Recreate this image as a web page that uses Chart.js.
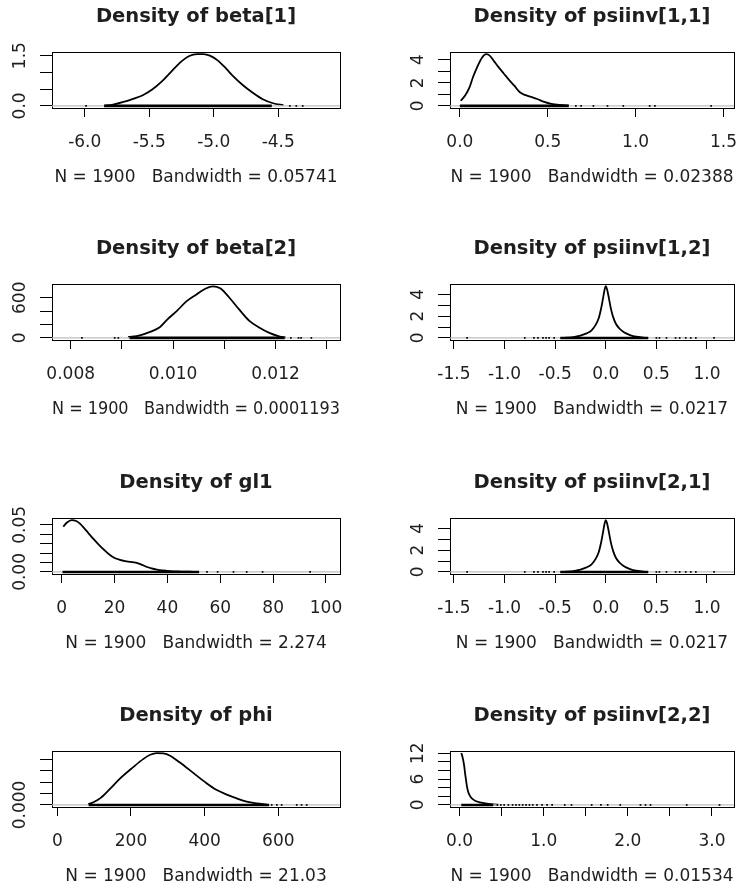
<!DOCTYPE html>
<html lang="en">
<head>
  <meta charset="UTF-8">
  <title>Density plots</title>
  <script src="https://cdn.jsdelivr.net/npm/chart.js"></script>
  <style>
    html, body { margin: 0; padding: 0; background: #fff; }
    #page { position: relative; width: 738px; height: 890px; overflow: hidden; }
    .panel { position: absolute; }
  </style>
</head>
<body>
<div id="page"></div>
<script>
// ---- data ----
// beta[1]
const beta1X = [-5.85, -5.78, -5.70, -5.62, -5.55, -5.48, -5.40, -5.32, -5.25, -5.19, -5.13, -5.08, -5.03, -4.97, -4.91, -4.85, -4.78, -4.70, -4.62, -4.54, -4.46];
const beta1Y = [0.0, 0.04, 0.12, 0.22, 0.32, 0.48, 0.74, 1.06, 1.33, 1.49, 1.547, 1.545, 1.50, 1.36, 1.14, 0.89, 0.64, 0.40, 0.20, 0.08, 0.02];
const beta1Rug = [-5.85, -4.55];
const beta1RugPts = [-5.99, -4.41, -4.36, -4.31];
const beta1XRange = [-6.254, -4.021];
const beta1YRange = [-0.062, 1.609];
const beta1XTicks = [-6.0, -5.5, -5.0, -4.5];
const beta1XLabels = ['-6.0', '-5.5', '-5.0', '-4.5'];
const beta1YTicks = [0, 0.5, 1.0, 1.5];
const beta1YLabels = ['0.0', '', '', '1.5'];

// psiinv[1,1]
const psi11X = [0.005, 0.03, 0.055, 0.075, 0.10, 0.125, 0.15, 0.17, 0.195, 0.22, 0.25, 0.28, 0.31, 0.34, 0.37, 0.40, 0.44, 0.48, 0.52, 0.57, 0.62];
const psi11Y = [0.45, 0.9, 1.6, 2.5, 3.4, 4.15, 4.48, 4.35, 3.85, 3.35, 2.8, 2.25, 1.75, 1.2, 0.95, 0.8, 0.6, 0.35, 0.18, 0.08, 0.03];
const psi11Rug = [0.0, 0.62];
const psi11RugPts = [0.66, 0.69, 0.76, 0.84, 0.93, 1.08, 1.11, 1.43];
const psi11XRange = [-0.056, 1.56];
const psi11YRange = [-0.18, 4.66];
const psi11XTicks = [0.0, 0.5, 1.0, 1.5];
const psi11XLabels = ['0.0', '0.5', '1.0', '1.5'];
const psi11YTicks = [0, 1, 2, 3, 4];
const psi11YLabels = ['0', '', '2', '', '4'];

// beta[2]
const beta2X = [0.00912, 0.00935, 0.00955, 0.00974, 0.00988, 0.01007, 0.01026, 0.01045, 0.01063, 0.01078, 0.01092, 0.0111, 0.01129, 0.01149, 0.01168, 0.01188, 0.01207, 0.0122];
const beta2Y = [10, 38, 90, 160, 270, 400, 545, 645, 735, 770, 740, 600, 425, 255, 155, 75, 24, 5];
const beta2Rug = [0.00915, 0.01218];
const beta2RugPts = [0.00822, 0.00886, 0.00893, 0.0123, 0.01245, 0.0125, 0.0127];
const beta2XRange = [0.007635, 0.01326];
const beta2YRange = [-31, 805];
const beta2XTicks = [0.008, 0.009, 0.010, 0.011, 0.012, 0.013];
const beta2XLabels = ['0.008', '', '0.010', '', '0.012', ''];
const beta2YTicks = [0, 200, 400, 600];
const beta2YLabels = ['0', '', '', '600'];

// psiinv[1,2]
const psi12X = [-0.40, -0.32, -0.25, -0.19, -0.14, -0.10, -0.07, -0.045, -0.025, -0.01, 0.0, 0.012, 0.03, 0.048, 0.07, 0.10, 0.14, 0.18, 0.24, 0.30, 0.38];
const psi12Y = [0.02, 0.08, 0.22, 0.42, 0.70, 1.2, 1.8, 2.75, 3.75, 4.5, 4.76, 4.5, 3.7, 2.8, 2.0, 1.3, 0.82, 0.52, 0.26, 0.11, 0.03];
const psi12Rug = [-0.45, 0.42];
const psi12RugPts = [-1.37, -0.80, -0.71, -0.67, -0.62, -0.59, -0.56, -0.51, 0.50, 0.53, 0.60, 0.69, 0.73, 0.79, 0.84, 0.89, 1.07];
const psi12XRange = [-1.539, 1.267];
const psi12YRange = [-0.19, 4.95];
const psi12XTicks = [-1.5, -1.0, -0.5, 0.0, 0.5, 1.0];
const psi12XLabels = ['-1.5', '-1.0', '-0.5', '0.0', '0.5', '1.0'];
const psi12YTicks = [0, 1, 2, 3, 4];
const psi12YLabels = ['0', '', '2', '', '4'];

// gl1
const gl1X = [0.6, 2, 3.8, 5.5, 7, 8.5, 10, 12, 14, 16, 18, 20, 22, 24, 26, 28, 30, 32, 34, 36, 38, 41, 45, 50];
const gl1Y = [0.048, 0.0525, 0.055, 0.054, 0.051, 0.0465, 0.0415, 0.035, 0.029, 0.0235, 0.0185, 0.0148, 0.0128, 0.0115, 0.0107, 0.0098, 0.0080, 0.0055, 0.0037, 0.0024, 0.0015, 0.0008, 0.0004, 0.0001];
const gl1Rug = [0.3, 52];
const gl1RugPts = [55, 59, 65, 70, 76, 94];
const gl1XRange = [-3.67, 105.3];
const gl1YRange = [-0.0022, 0.0572];
const gl1XTicks = [0, 20, 40, 60, 80, 100];
const gl1XLabels = ['0', '20', '40', '60', '80', '100'];
const gl1YTicks = [0, 0.01, 0.02, 0.03, 0.04, 0.05];
const gl1YLabels = ['0.00', '', '', '', '', '0.05'];

// psiinv[2,1]
const psi21X = [-0.40, -0.32, -0.25, -0.19, -0.14, -0.10, -0.07, -0.045, -0.025, -0.01, 0.0, 0.012, 0.03, 0.048, 0.07, 0.10, 0.14, 0.18, 0.24, 0.30, 0.38];
const psi21Y = [0.02, 0.08, 0.22, 0.42, 0.70, 1.2, 1.8, 2.75, 3.75, 4.5, 4.76, 4.5, 3.7, 2.8, 2.0, 1.3, 0.82, 0.52, 0.26, 0.11, 0.03];
const psi21Rug = [-0.45, 0.42];
const psi21RugPts = [-1.37, -0.80, -0.71, -0.67, -0.62, -0.59, -0.56, -0.51, 0.50, 0.53, 0.60, 0.69, 0.73, 0.79, 0.84, 0.89, 1.07];
const psi21XRange = [-1.539, 1.267];
const psi21YRange = [-0.19, 4.95];
const psi21XTicks = [-1.5, -1.0, -0.5, 0.0, 0.5, 1.0];
const psi21XLabels = ['-1.5', '-1.0', '-0.5', '0.0', '0.5', '1.0'];
const psi21YTicks = [0, 1, 2, 3, 4];
const psi21YLabels = ['0', '', '2', '', '4'];

// phi
const phiX = [84, 98, 116, 143, 170, 206, 233, 252, 270, 288, 306, 333, 369, 405, 433, 460, 487, 514, 541, 568];
const phiY = [0.00006, 0.00023, 0.00057, 0.0014, 0.0023, 0.0033, 0.0040, 0.00438, 0.00453, 0.0045, 0.0043, 0.0037, 0.0028, 0.0019, 0.0013, 0.0009, 0.00057, 0.00029, 0.00014, 0.00005];
const phiRug = [85, 575];
const phiRugPts = [582, 596, 609, 650, 663, 677];
const phiXRange = [-14.4, 767.4];
const phiYRange = [-0.00018, 0.00471];
const phiXTicks = [0, 200, 400, 600];
const phiXLabels = ['0', '200', '400', '600'];
const phiYTicks = [0, 0.001, 0.002, 0.003, 0.004];
const phiYLabels = ['0.000', '', '', '', ''];

// psiinv[2,2]
const psi22X = [0.02, 0.03, 0.043, 0.055, 0.065, 0.075, 0.085, 0.1, 0.12, 0.15, 0.19, 0.24, 0.29, 0.34, 0.40, 0.46];
const psi22Y = [12.04, 11.5, 10.4, 9.0, 7.4, 6.0, 4.6, 3.2, 2.2, 1.45, 0.9, 0.6, 0.42, 0.25, 0.12, 0.06];
const psi22Rug = [0.02, 0.40];
const psi22RugPts = [0.45, 0.49, 0.53, 0.58, 0.63, 0.67, 0.71, 0.75, 0.79, 0.83, 0.87, 0.92, 0.98, 1.04, 1.1, 1.25, 1.33, 1.57, 1.68, 1.76, 1.91, 2.15, 2.21, 2.27, 2.7, 3.09];
const psi22XRange = [-0.114, 3.262];
const psi22YRange = [-0.48, 12.52];
const psi22XTicks = [0.0, 0.5, 1.0, 1.5, 2.0, 2.5, 3.0];
const psi22XLabels = ['0.0', '', '1.0', '', '2.0', '', '3.0'];
const psi22YTicks = [0, 2, 4, 6, 8, 10, 12];
const psi22YLabels = ['0', '', '', '6', '', '', '12'];

// ---- panels ----
const panels = [
  { row: 0, col: 0, title: 'Density of beta[1]', xlab: 'N = 1900   Bandwidth = 0.05741',
    x: beta1X, y: beta1Y, rug: beta1Rug, rugPts: beta1RugPts, xr: beta1XRange, yr: beta1YRange,
    xt: beta1XTicks, xl: beta1XLabels, yt: beta1YTicks, yl: beta1YLabels },
  { row: 0, col: 1, title: 'Density of psiinv[1,1]', xlab: 'N = 1900   Bandwidth = 0.02388',
    x: psi11X, y: psi11Y, rug: psi11Rug, rugPts: psi11RugPts, xr: psi11XRange, yr: psi11YRange,
    xt: psi11XTicks, xl: psi11XLabels, yt: psi11YTicks, yl: psi11YLabels },
  { row: 1, col: 0, title: 'Density of beta[2]', xlab: 'N = 1900   Bandwidth = 0.0001193',
    x: beta2X, y: beta2Y, rug: beta2Rug, rugPts: beta2RugPts, xr: beta2XRange, yr: beta2YRange,
    xt: beta2XTicks, xl: beta2XLabels, yt: beta2YTicks, yl: beta2YLabels },
  { row: 1, col: 1, title: 'Density of psiinv[1,2]', xlab: 'N = 1900   Bandwidth = 0.0217',
    x: psi12X, y: psi12Y, rug: psi12Rug, rugPts: psi12RugPts, xr: psi12XRange, yr: psi12YRange,
    xt: psi12XTicks, xl: psi12XLabels, yt: psi12YTicks, yl: psi12YLabels },
  { row: 2, col: 0, title: 'Density of gl1', xlab: 'N = 1900   Bandwidth = 2.274',
    x: gl1X, y: gl1Y, rug: gl1Rug, rugPts: gl1RugPts, xr: gl1XRange, yr: gl1YRange,
    xt: gl1XTicks, xl: gl1XLabels, yt: gl1YTicks, yl: gl1YLabels },
  { row: 2, col: 1, title: 'Density of psiinv[2,1]', xlab: 'N = 1900   Bandwidth = 0.0217',
    x: psi21X, y: psi21Y, rug: psi21Rug, rugPts: psi21RugPts, xr: psi21XRange, yr: psi21YRange,
    xt: psi21XTicks, xl: psi21XLabels, yt: psi21YTicks, yl: psi21YLabels },
  { row: 3, col: 0, title: 'Density of phi', xlab: 'N = 1900   Bandwidth = 21.03',
    x: phiX, y: phiY, rug: phiRug, rugPts: phiRugPts, xr: phiXRange, yr: phiYRange,
    xt: phiXTicks, xl: phiXLabels, yt: phiYTicks, yl: phiYLabels },
  { row: 3, col: 1, title: 'Density of psiinv[2,2]', xlab: 'N = 1900   Bandwidth = 0.01534',
    x: psi22X, y: psi22Y, rug: psi22Rug, rugPts: psi22RugPts, xr: psi22XRange, yr: psi22YRange,
    xt: psi22XTicks, xl: psi22XLabels, yt: psi22YTicks, yl: psi22YLabels }
];

// layout (page pixels)
const ROW_TOP  = [52, 284, 518, 751];   // top edge of each plot box
const COL_LEFT = [52, 450];             // left edge of each plot box
const BOX_W    = [288, 287];
const PANEL_W  = 369;
const TOP_H    = 52;                    // title block above the box
const BOX_H    = 56;
const BOTTOM_H = 80;                    // ticks + labels + xlab below the box
const FONT     = '"DejaVu Sans", "Liberation Sans", sans-serif';
const TXT      = '#1e1e1e';
const TICK_FONT = { family: FONT, size: 17 };

const page = document.getElementById('page');
const measure = document.createElement('canvas').getContext('2d');
function widest(labels) {
  measure.font = '17px ' + FONT;
  return Math.max(0, ...labels.map(s => measure.measureText(s).width));
}

panels.forEach(p => {
  const div = document.createElement('div');
  div.className = 'panel';
  const panelLeft = p.col * PANEL_W;
  const boxLeft = COL_LEFT[p.col] - panelLeft;
  const rightPad = PANEL_W - boxLeft - BOX_W[p.col];
  div.style.left = panelLeft + 'px';
  div.style.top = (ROW_TOP[p.row] - TOP_H) + 'px';
  const canvas = document.createElement('canvas');
  canvas.width = PANEL_W;
  canvas.height = TOP_H + BOX_H + BOTTOM_H;
  div.appendChild(canvas);
  page.appendChild(div);

  // rotated y labels sit ~32px left of the box
  const yPad = 19 - widest(p.yl) / 2;
  const noPad = s => { s.paddingLeft = 0; s.paddingRight = 0; s.paddingTop = 0; s.paddingBottom = 0; };

  new Chart(canvas.getContext('2d'), {
    type: 'line',
    data: {
      datasets: [
        { data: p.rug.map(v => ({ x: v, y: 0 })), borderColor: '#000', borderWidth: 2.6, pointRadius: 0 },
        { data: p.rugPts.map(v => ({ x: v, y: 0 })), showLine: false, pointStyle: 'rect',
          pointRadius: 1.2, backgroundColor: '#000', borderColor: '#000', borderWidth: 0 },
        { data: [{ x: p.xr[0], y: 0 }, { x: p.xr[1], y: 0 }], borderColor: '#bebebe', borderWidth: 1.2, pointRadius: 0 },
        { data: p.x.map((v, i) => ({ x: v, y: p.y[i] })), borderColor: '#000', borderWidth: 1.8,
          pointRadius: 0, cubicInterpolationMode: 'monotone' }
      ]
    },
    options: {
      responsive: false,
      devicePixelRatio: 1,
      animation: false,
      events: [],
      layout: { padding: { left: 0, right: rightPad, top: 0, bottom: 0 } },
      plugins: {
        legend: { display: false },
        tooltip: { enabled: false },
        title: {
          display: true, text: p.title, fullSize: false, color: TXT,
          font: { family: FONT, size: 19.5, weight: 'bold', lineHeight: 1.2 },
          padding: { top: 5, bottom: 23.6 }
        }
      },
      scales: {
        x: {
          type: 'linear', position: 'bottom', min: p.xr[0], max: p.xr[1],
          afterBuildTicks: s => { s.ticks = p.xt.map(v => ({ value: v })); },
          afterFit: s => { s.height = BOTTOM_H; noPad(s); },
          grid: { drawOnChartArea: false, drawTicks: true, tickLength: 9, color: '#000', lineWidth: 1 },
          border: { display: true, color: '#000', width: 1 },
          ticks: { autoSkip: false, minRotation: 0, maxRotation: 0, padding: 15.5, color: TXT, font: TICK_FONT,
                   callback: (v, i) => p.xl[i] },
          title: { display: true, text: p.xlab, color: TXT, font: TICK_FONT, padding: { top: 0, bottom: 0 } }
        },
        y: {
          type: 'linear', position: 'left', min: p.yr[0], max: p.yr[1],
          afterBuildTicks: s => { s.ticks = p.yt.map(v => ({ value: v })); },
          afterFit: s => { s.width = boxLeft; noPad(s); },
          grid: { drawOnChartArea: false, drawTicks: true, tickLength: 12, color: '#000', lineWidth: 1 },
          border: { display: true, color: '#000', width: 1 },
          ticks: { autoSkip: false, minRotation: 90, maxRotation: 90, crossAlign: 'center', padding: yPad,
                   color: TXT, font: TICK_FONT, callback: (v, i) => p.yl[i] }
        },
        x2: {
          type: 'linear', position: 'top', min: 0, max: 1,
          afterFit: s => { s.height = 0; noPad(s); },
          ticks: { display: false }, grid: { display: false },
          border: { display: true, color: '#000', width: 1 }
        },
        y2: {
          type: 'linear', position: 'right', min: 0, max: 1,
          afterFit: s => { s.width = 0; noPad(s); },
          ticks: { display: false }, grid: { display: false },
          border: { display: true, color: '#000', width: 1 }
        }
      }
    }
  });
});
</script>
</body>
</html>
